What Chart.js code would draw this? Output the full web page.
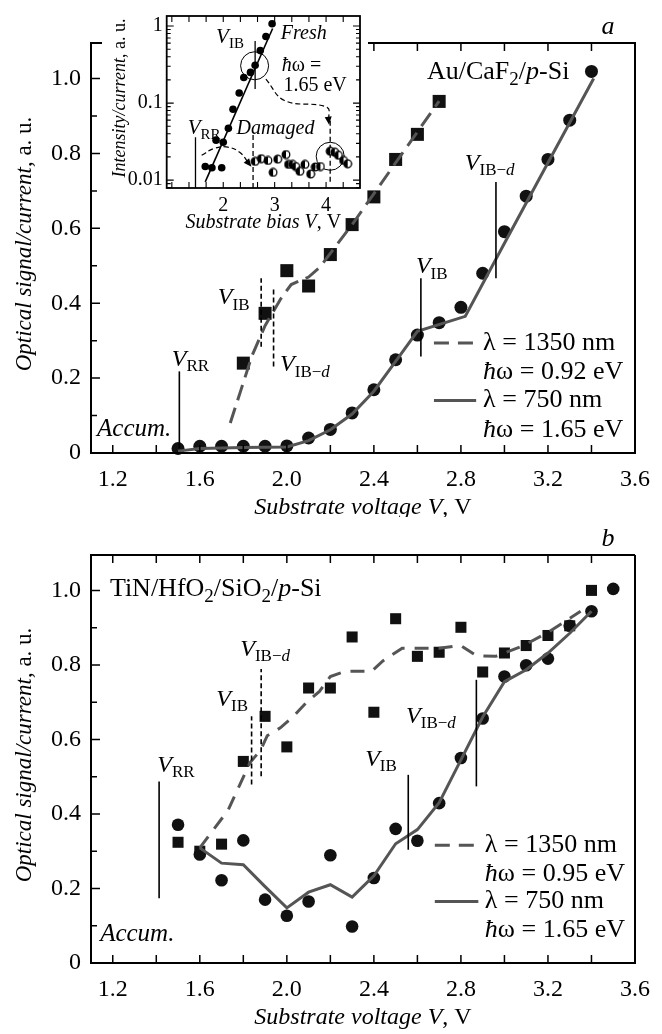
<!DOCTYPE html>
<html>
<head>
<meta charset="utf-8">
<script src="https://cdn.jsdelivr.net/npm/chart.js@4.4.1/dist/chart.umd.min.js"></script>
<style>
  body { margin: 0; background: #fff; }
  #wrap { position: relative; width: 662px; height: 1034px; }
  canvas { position: absolute; }
  #chartA { left: 0; top: 0; }
  #chartB { left: 0; top: 517px; }
  #inset { left: 100px; top: 0; }
</style>
</head>
<body>
<div id="wrap">
  <canvas id="chartA" width="662" height="517"></canvas>
  <canvas id="chartB" width="662" height="517"></canvas>
  <canvas id="inset" width="275" height="240"></canvas>
</div>
<script>
// ---- ejes comunes ----
const xTickVals = [1.2, 1.6, 2.0, 2.4, 2.8, 3.2, 3.6];
const yTickVals = [0, 0.2, 0.4, 0.6, 0.8, 1.0];

// ---- panel a : Au/CaF2/p-Si ----
const voltA1350 = [1.8, 1.9, 2.0, 2.1, 2.2, 2.3, 2.4, 2.5, 2.6, 2.7];
const sigA1350  = [0.24, 0.373, 0.487, 0.446, 0.53, 0.61, 0.684, 0.784, 0.851, 0.939];
const voltA750  = [1.5, 1.6, 1.7, 1.8, 1.9, 2.0, 2.1, 2.2, 2.3, 2.4, 2.5, 2.6, 2.7, 2.8, 2.9, 3.0, 3.1, 3.2, 3.3, 3.4];
const sigA750   = [0.012, 0.018, 0.018, 0.018, 0.018, 0.019, 0.04, 0.063, 0.107, 0.169, 0.249, 0.315, 0.348, 0.389, 0.48, 0.591, 0.686, 0.784, 0.889, 1.019];
const fitA1350V = [1.74, 1.79, 1.84, 1.9, 1.97, 2.02, 2.1, 2.15, 2.3, 2.7];
const fitA1350  = [0.08, 0.17, 0.26, 0.34, 0.41, 0.45, 0.47, 0.495, 0.61, 0.94];
const fitA750V  = [1.5, 1.6, 1.8, 2.0, 2.1, 2.2, 2.3, 2.4, 2.5, 2.6, 2.82, 3.0, 3.2, 3.41];
const fitA750   = [0.005, 0.012, 0.015, 0.016, 0.033, 0.062, 0.104, 0.165, 0.245, 0.325, 0.365, 0.56, 0.775, 1.0];
// V_RR, V_IB, V_IB-d (1350), V_IB, V_IB-d (750)
const markAV  = [1.506, 1.882, 1.939, 2.616, 2.961];
const markALo = [0.013, 0.284, 0.231, 0.258, 0.467];
const markAHi = [0.218, 0.467, 0.444, 0.467, 0.724];

// ---- panel b : TiN/HfO2/SiO2/p-Si ----
const voltB1350 = [1.5, 1.6, 1.7, 1.8, 1.9, 2.0, 2.1, 2.2, 2.3, 2.4, 2.5, 2.6, 2.7, 2.8, 2.9, 3.0, 3.1, 3.2, 3.3, 3.4];
const sigB1350  = [0.324, 0.30, 0.319, 0.541, 0.662, 0.58, 0.738, 0.738, 0.875, 0.673, 0.924, 0.823, 0.834, 0.901, 0.781, 0.832, 0.852, 0.879, 0.905, 1.0];
const voltB750  = [1.5, 1.6, 1.7, 1.8, 1.9, 2.0, 2.1, 2.2, 2.3, 2.4, 2.5, 2.6, 2.7, 2.8, 2.9, 3.0, 3.1, 3.2, 3.3, 3.4, 3.5];
const sigB750   = [0.371, 0.291, 0.222, 0.329, 0.17, 0.127, 0.165, 0.289, 0.098, 0.228, 0.36, 0.328, 0.429, 0.55, 0.656, 0.769, 0.799, 0.817, 0.905, 0.944, 1.004];
const fitB1350V = [1.6, 1.73, 1.83, 1.88, 1.91, 1.97, 2.03, 2.09, 2.15, 2.2, 2.27, 2.39, 2.44, 2.53, 2.7, 2.8, 2.87, 2.96, 3.08, 3.2, 3.35];
const fitB1350  = [0.309, 0.41, 0.537, 0.572, 0.61, 0.631, 0.662, 0.699, 0.729, 0.769, 0.783, 0.783, 0.81, 0.845, 0.845, 0.852, 0.825, 0.823, 0.85, 0.887, 0.944];
const fitB750V  = [1.6, 1.7, 1.8, 1.9, 2.0, 2.1, 2.2, 2.3, 2.4, 2.5, 2.6, 2.7, 2.8, 2.9, 3.0, 3.1, 3.2, 3.3, 3.4];
const fitB750   = [0.309, 0.268, 0.264, 0.205, 0.148, 0.19, 0.21, 0.177, 0.234, 0.32, 0.358, 0.43, 0.545, 0.66, 0.755, 0.787, 0.832, 0.885, 0.944];
const markBV  = [1.413, 1.838, 1.882, 2.558, 2.871];
const markBLo = [0.174, 0.479, 0.501, 0.304, 0.474];
const markBHi = [0.487, 0.662, 0.789, 0.505, 0.76];

// ---- inset (log) ----
const insetXTicks = [2, 3, 4];
const insetYTicks = [0.01, 0.1, 1];
const freshV   = [1.65, 1.78, 1.86, 1.97, 2.0, 2.10, 2.19, 2.31, 2.40, 2.53, 2.62, 2.72, 2.83, 2.95];
const freshI   = [0.015, 0.0145, 0.033, 0.0145, 0.031, 0.047, 0.083, 0.135, 0.215, 0.25, 0.31, 0.48, 0.73, 1.07];
const damagedV = [2.62, 2.74, 2.87, 2.97, 3.06, 3.22, 3.27, 3.35, 3.41, 3.49, 3.59, 3.70, 3.79, 3.89, 4.08, 4.17, 4.24, 4.34, 4.42];
const damagedI = [0.0175, 0.019, 0.018, 0.0126, 0.0187, 0.0215, 0.016, 0.016, 0.015, 0.013, 0.016, 0.012, 0.0148, 0.015, 0.0237, 0.023, 0.021, 0.018, 0.0163];
const fitFreshV = [1.65, 2.96];
const fitFreshI = [0.0095, 0.93];
const ringV = [2.61, 4.08];
const ringI = [0.305, 0.0204];
const arrow1V = [2.83, 3.19, 4.02, 4.05];
const arrow1I = [0.205, 0.108, 0.088, 0.059];
const arrow2V = [1.58, 1.81, 2.06, 2.32, 2.5];
const arrow2I = [0.021, 0.0256, 0.027, 0.023, 0.0164];
const insetMarkV  = [1.46, 2.58, 2.62, 4.08];
const insetMarkLo = [0.0079, 0.0079, 0.152, 0.0095];
const insetMarkHi = [0.036, 0.04, 0.64, 0.059];

const SERIF = "'Liberation Serif', Tinos, 'DejaVu Serif', serif";
Chart.defaults.font.family = SERIF;
const pts = (xs, ys) => xs.map((v, i) => ({ x: v, y: ys[i] }));

// texto con cursiva y subíndices
function richText(ctx, x, y, parts, size, align) {
  const fontOf = st => (st.includes('i') ? 'italic ' : '') + Math.round(st.includes('s') ? size * 0.72 : size) + 'px ' + SERIF;
  let w = 0;
  parts.forEach(([t, st]) => { ctx.font = fontOf(st); w += ctx.measureText(t).width; });
  let cx = align === 'center' ? x - w / 2 : align === 'right' ? x - w : x;
  ctx.textAlign = 'left';
  ctx.textBaseline = 'middle';
  ctx.fillStyle = '#000';
  parts.forEach(([t, st]) => {
    ctx.font = fontOf(st);
    ctx.fillText(t, cx, y + (st.includes('s') ? size * 0.3 : 0));
    cx += ctx.measureText(t).width;
  });
}

const VRR  = [['V', 'i'], ['RR', 's']];
const VIB  = [['V', 'i'], ['IB', 's']];
const VIBd = [['V', 'i'], ['IB\u2212', 's'], ['d', 'si']];

function markerSets(V, lo, hi, dashed) {
  return V.map((v, i) => ({
    data: [{ x: v, y: lo[i] }, { x: v, y: hi[i] }],
    showLine: true, pointRadius: 0, borderColor: '#000', borderWidth: 1.6,
    borderDash: dashed[i] ? [5, 3] : [], order: 0
  }));
}

const decoPlugin = {
  id: 'deco',
  afterDraw(chart, args, o) {
    const { ctx, chartArea: a, scales: { x, y } } = chart;
    ctx.save();
    ctx.strokeStyle = '#000';
    ctx.lineWidth = 2;
    ctx.beginPath();
    if (o.gap) {
      ctx.moveTo(o.gap[0], a.top); ctx.lineTo(a.left, a.top);
    } else {
      ctx.moveTo(a.right, a.top); ctx.lineTo(a.left, a.top);
    }
    ctx.lineTo(a.left, a.bottom); ctx.lineTo(a.right, a.bottom); ctx.lineTo(a.right, a.top);
    if (o.gap) ctx.lineTo(o.gap[1], a.top);
    ctx.stroke();

    // marcas hacia dentro
    ctx.lineWidth = 1.5;
    ctx.beginPath();
    for (let k = 0; k < 12; k++) {
      const p = x.getPixelForValue(1.2 + k * 0.2);
      ctx.moveTo(p, a.bottom); ctx.lineTo(p, a.bottom - 8);
      if (!o.gap || p < o.gap[0] || p > o.gap[1]) { ctx.moveTo(p, a.top); ctx.lineTo(p, a.top + 8); }
    }
    for (let k = 1; k <= 10; k++) {
      const q = y.getPixelForValue(k / 10);
      ctx.moveTo(a.left, q); ctx.lineTo(a.left + (k % 2 === 0 ? 9 : 6), q);
    }
    ctx.stroke();

    const px = v => x.getPixelForValue(v);
    const py = v => y.getPixelForValue(v);

    o.notes.forEach(n => richText(ctx, px(n.at[0]), py(n.at[1]), n.parts, n.size || 24, 'left'));

    // leyenda
    const L = o.legend;
    L.rows.forEach(r => {
      if (r.line) {
        ctx.strokeStyle = '#555'; ctx.lineWidth = 3;
        ctx.setLineDash(r.line === 'dash' ? [15, 9] : []);
        ctx.beginPath(); ctx.moveTo(px(L.x0), py(r.y)); ctx.lineTo(px(L.x1), py(r.y)); ctx.stroke();
        ctx.setLineDash([]);
      }
      richText(ctx, px(L.xt), py(r.y), r.parts, 26, 'left');
    });

    // títulos
    richText(ctx, (a.left + a.right) / 2, a.bottom + 55,
      [['Substrate voltage ', 'i'], ['V', 'i'], [', V', '']], 24, 'center');
    ctx.save();
    ctx.translate(25, (a.top + a.bottom) / 2 - 4);
    ctx.rotate(-Math.PI / 2);
    richText(ctx, 0, 0, [['Optical signal/current', 'i'], [', a. u.', '']], 23, 'center');
    ctx.restore();
    richText(ctx, a.right - 27, a.top - 16, [[o.letter, 'i']], 26, 'center');
    ctx.restore();
  }
};

function mainChart(id, p) {
  return new Chart(document.getElementById(id), {
    type: 'scatter',
    data: { datasets: p.datasets },
    options: {
      responsive: false,
      animation: false,
      events: [],
      layout: { padding: { top: p.top, right: 17, left: 0, bottom: 0 } },
      scales: {
        x: {
          type: 'linear', min: 1.1, max: 3.6,
          afterBuildTicks: s => { s.ticks = xTickVals.map(v => ({ value: v })); },
          afterFit: s => { s.height = p.xh; },
          grid: { display: false, drawTicks: false },
          border: { display: false },
          ticks: { padding: 12, color: '#000', font: { size: 24, family: SERIF }, maxRotation: 0, autoSkip: false,
                   callback: v => v.toFixed(1) }
        },
        y: {
          type: 'linear', min: 0, max: 1.095,
          afterBuildTicks: s => { s.ticks = yTickVals.map(v => ({ value: v })); },
          afterFit: s => { s.width = 91; },
          grid: { display: false, drawTicks: false },
          border: { display: false },
          ticks: { padding: 10, color: '#000', font: { size: 24, family: SERIF }, autoSkip: false,
                   callback: v => v === 0 ? '0' : v.toFixed(1) }
        }
      },
      plugins: { legend: { display: false }, tooltip: { enabled: false }, deco: p.deco }
    },
    plugins: [decoPlugin]
  });
}

// Panel a
mainChart('chartA', {
  top: 43, xh: 64,
  datasets: [
    { data: pts(fitA750V, fitA750), showLine: true, pointRadius: 0, borderColor: '#555', borderWidth: 3, order: 1 },
    { data: pts(fitA1350V, fitA1350), showLine: true, pointRadius: 0, borderColor: '#555', borderWidth: 3, borderDash: [16, 8], order: 1 },
    ...markerSets(markAV, markALo, markAHi, [false, true, true, false, false]),
    { data: pts(voltA750, sigA750), pointStyle: 'circle', pointRadius: 6.5, backgroundColor: '#111', borderWidth: 0, clip: false, order: 2 },
    { data: pts(voltA1350, sigA1350), pointStyle: 'rect', pointRadius: 9.2, backgroundColor: '#111', borderWidth: 0, clip: false, order: 2 }
  ],
  deco: {
    gap: [102, 368],
    letter: 'a',
    notes: [
      { at: [1.471, 0.249], parts: VRR },
      { at: [1.683, 0.414], parts: VIB },
      { at: [1.969, 0.235], parts: VIBd },
      { at: [2.593, 0.497], parts: VIB },
      { at: [2.818, 0.774], parts: VIBd },
      { at: [1.128, 0.062], parts: [['Accum.', 'i']], size: 25 },
      { at: [2.644, 1.017], parts: [['Au/CaF', ''], ['2', 's'], ['/', ''], ['p', 'i'], ['-Si', '']], size: 26 }
    ],
    legend: {
      x0: 2.676, x1: 2.87, xt: 2.902,
      rows: [
        { y: 0.294, line: 'dash', parts: [['\u03bb = 1350 nm', '']] },
        { y: 0.217, parts: [['\u0127', 'i'], ['\u03c9 = 0.92 eV', '']] },
        { y: 0.14, line: 'solid', parts: [['\u03bb = 750 nm', '']] },
        { y: 0.062, parts: [['\u0127', 'i'], ['\u03c9 = 1.65 eV', '']] }
      ]
    }
  }
});

// Panel b
mainChart('chartB', {
  top: 38, xh: 71,
  datasets: [
    { data: pts(fitB750V, fitB750), showLine: true, pointRadius: 0, borderColor: '#555', borderWidth: 3, order: 1 },
    { data: pts(fitB1350V, fitB1350), showLine: true, pointRadius: 0, borderColor: '#555', borderWidth: 3, borderDash: [14, 10], order: 1 },
    ...markerSets(markBV, markBLo, markBHi, [false, true, true, false, false]),
    { data: pts(voltB750, sigB750), pointStyle: 'circle', pointRadius: 6.3, backgroundColor: '#111', borderWidth: 0, clip: false, order: 2 },
    { data: pts(voltB1350, sigB1350), pointStyle: 'rect', pointRadius: 7.8, backgroundColor: '#111', borderWidth: 0, clip: false, order: 2 }
  ],
  deco: {
    letter: 'b',
    notes: [
      { at: [1.405, 0.53], parts: VRR },
      { at: [1.676, 0.707], parts: VIB },
      { at: [1.786, 0.841], parts: VIBd },
      { at: [2.36, 0.546], parts: VIB },
      { at: [2.548, 0.662], parts: VIBd },
      { at: [1.142, 0.076], parts: [['Accum.', 'i']], size: 25 },
      { at: [1.187, 1.002], parts: [['TiN/HfO', ''], ['2', 's'], ['/SiO', ''], ['2', 's'], ['/', ''], ['p', 'i'], ['-Si', '']], size: 26 }
    ],
    legend: {
      x0: 2.68, x1: 2.88, xt: 2.91,
      rows: [
        { y: 0.316, line: 'dash', parts: [['\u03bb = 1350 nm', '']] },
        { y: 0.238, parts: [['\u0127', 'i'], ['\u03c9 = 0.95 eV', '']] },
        { y: 0.165, line: 'solid', parts: [['\u03bb = 750 nm', '']] },
        { y: 0.087, parts: [['\u0127', 'i'], ['\u03c9 = 1.65 eV', '']] }
      ]
    }
  }
});

// punto medio relleno para el estado dañado
const halfDot = document.createElement('canvas');
halfDot.width = 10; halfDot.height = 10;
(() => {
  const c = halfDot.getContext('2d');
  c.fillStyle = '#fff'; c.beginPath(); c.arc(5, 5, 3.8, 0, 2 * Math.PI); c.fill();
  c.fillStyle = '#000'; c.beginPath(); c.arc(5, 5, 3.8, Math.PI / 2, 3 * Math.PI / 2); c.fill();
  c.strokeStyle = '#000'; c.lineWidth = 1.3; c.beginPath(); c.arc(5, 5, 3.8, 0, 2 * Math.PI); c.stroke();
})();

const insetPlugin = {
  id: 'insetDeco',
  afterDraw(chart) {
    const { ctx, chartArea: a, scales: { x, y } } = chart;
    ctx.save();
    ctx.strokeStyle = '#000';
    ctx.lineWidth = 1.8;
    ctx.strokeRect(a.left, a.top, a.right - a.left, a.bottom - a.top);
    ctx.lineWidth = 1.1;
    ctx.beginPath();
    for (let k = 0; k < 12; k++) {
      const v = 1 + k / 3;
      if (v <= x.min || v >= x.max) continue;
      const p = x.getPixelForValue(v);
      ctx.moveTo(p, a.bottom); ctx.lineTo(p, a.bottom - 6);
      ctx.moveTo(p, a.top); ctx.lineTo(p, a.top + 6);
    }
    for (const d of [0.001, 0.01, 0.1, 1]) {
      for (let m = 1; m < 10; m++) {
        const v = d * m;
        if (v <= y.min || v >= y.max) continue;
        const q = y.getPixelForValue(v);
        const len = m === 1 ? 7 : 4;
        ctx.moveTo(a.left, q); ctx.lineTo(a.left + len, q);
        ctx.moveTo(a.right, q); ctx.lineTo(a.right - len, q);
      }
    }
    ctx.stroke();

    // puntas de flecha
    ctx.fillStyle = '#000';
    [[arrow1V, arrow1I], [arrow2V, arrow2I]].forEach(([vs, is]) => {
      const n = vs.length;
      const x1 = x.getPixelForValue(vs[n - 2]), y1 = y.getPixelForValue(is[n - 2]);
      const x2 = x.getPixelForValue(vs[n - 1]), y2 = y.getPixelForValue(is[n - 1]);
      const ang = Math.atan2(y2 - y1, x2 - x1);
      ctx.beginPath();
      ctx.moveTo(x2 + 4 * Math.cos(ang), y2 + 4 * Math.sin(ang));
      ctx.lineTo(x2 - 4 * Math.cos(ang) - 3.5 * Math.sin(ang), y2 - 4 * Math.sin(ang) + 3.5 * Math.cos(ang));
      ctx.lineTo(x2 - 4 * Math.cos(ang) + 3.5 * Math.sin(ang), y2 - 4 * Math.sin(ang) - 3.5 * Math.cos(ang));
      ctx.fill();
    });

    const px = v => x.getPixelForValue(v);
    const py = v => y.getPixelForValue(v);
    richText(ctx, px(1.86), py(0.7), VIB, 21, 'left');
    richText(ctx, px(3.12), py(0.79), [['Fresh', 'i']], 20, 'left');
    richText(ctx, px(3.14), py(0.305), [['\u0127', 'i'], ['\u03c9 =', '']], 20, 'left');
    richText(ctx, px(3.17), py(0.168), [['1.65 eV', '']], 20, 'left');
    richText(ctx, px(1.31), py(0.047), VRR, 21, 'left');
    richText(ctx, px(2.26), py(0.047), [['Damaged', 'i']], 20, 'left');

    richText(ctx, (a.left + a.right) / 2, a.bottom + 35,
      [['Substrate bias ', 'i'], ['V', 'i'], [', V', '']], 20, 'center');
    ctx.save();
    ctx.translate(20, (a.top + a.bottom) / 2 - 4);
    ctx.rotate(-Math.PI / 2);
    richText(ctx, 0, 0, [['Intensity/current', 'i'], [', a. u.', '']], 18, 'center');
    ctx.restore();
    ctx.restore();
  }
};

new Chart(document.getElementById('inset'), {
  type: 'scatter',
  data: {
    datasets: [
      { data: pts(fitFreshV, fitFreshI), showLine: true, pointRadius: 0, borderColor: '#000', borderWidth: 1.6, order: 1 },
      { data: pts(arrow1V, arrow1I), showLine: true, pointRadius: 0, borderColor: '#000', borderWidth: 1.2, borderDash: [5, 3], tension: 0.4, order: 1 },
      { data: pts(arrow2V, arrow2I), showLine: true, pointRadius: 0, borderColor: '#000', borderWidth: 1.2, borderDash: [5, 3], tension: 0.4, order: 1 },
      ...insetMarkV.map((v, i) => ({
        data: [{ x: v, y: insetMarkLo[i] }, { x: v, y: insetMarkHi[i] }],
        showLine: true, pointRadius: 0, borderColor: '#000', borderWidth: 1.3,
        borderDash: (i === 1 || i === 3) ? [5, 3] : [], order: 1
      })),
      { data: pts(ringV, ringI), pointStyle: 'circle', pointRadius: 14, backgroundColor: 'rgba(0,0,0,0)', borderColor: '#000', borderWidth: 1, order: 1 },
      { data: pts(freshV, freshI), pointStyle: 'circle', pointRadius: 3.8, backgroundColor: '#000', borderWidth: 0, order: 0 },
      { data: pts(damagedV, damagedI), pointStyle: halfDot, order: 0 }
    ]
  },
  options: {
    responsive: false,
    animation: false,
    events: [],
    layout: { padding: { top: 15, right: 13.3, left: 0, bottom: 0 } },
    scales: {
      x: {
        type: 'linear', min: 0.9, max: 4.66,
        afterBuildTicks: s => { s.ticks = insetXTicks.map(v => ({ value: v })); },
        afterFit: s => { s.height = 52; },
        grid: { display: false, drawTicks: false },
        border: { display: false },
        ticks: { padding: 6, color: '#000', font: { size: 20, family: SERIF }, maxRotation: 0, autoSkip: false, callback: v => String(v) }
      },
      y: {
        type: 'logarithmic', min: 0.0079, max: 1.35,
        afterBuildTicks: s => { s.ticks = insetYTicks.map(v => ({ value: v })); },
        afterFit: s => { s.width = 66.7; },
        grid: { display: false, drawTicks: false },
        border: { display: false },
        ticks: { padding: 4, color: '#000', font: { size: 20, family: SERIF }, autoSkip: false, callback: v => String(v) }
      }
    },
    plugins: { legend: { display: false }, tooltip: { enabled: false } }
  },
  plugins: [insetPlugin]
});
</script>
</body>
</html>
